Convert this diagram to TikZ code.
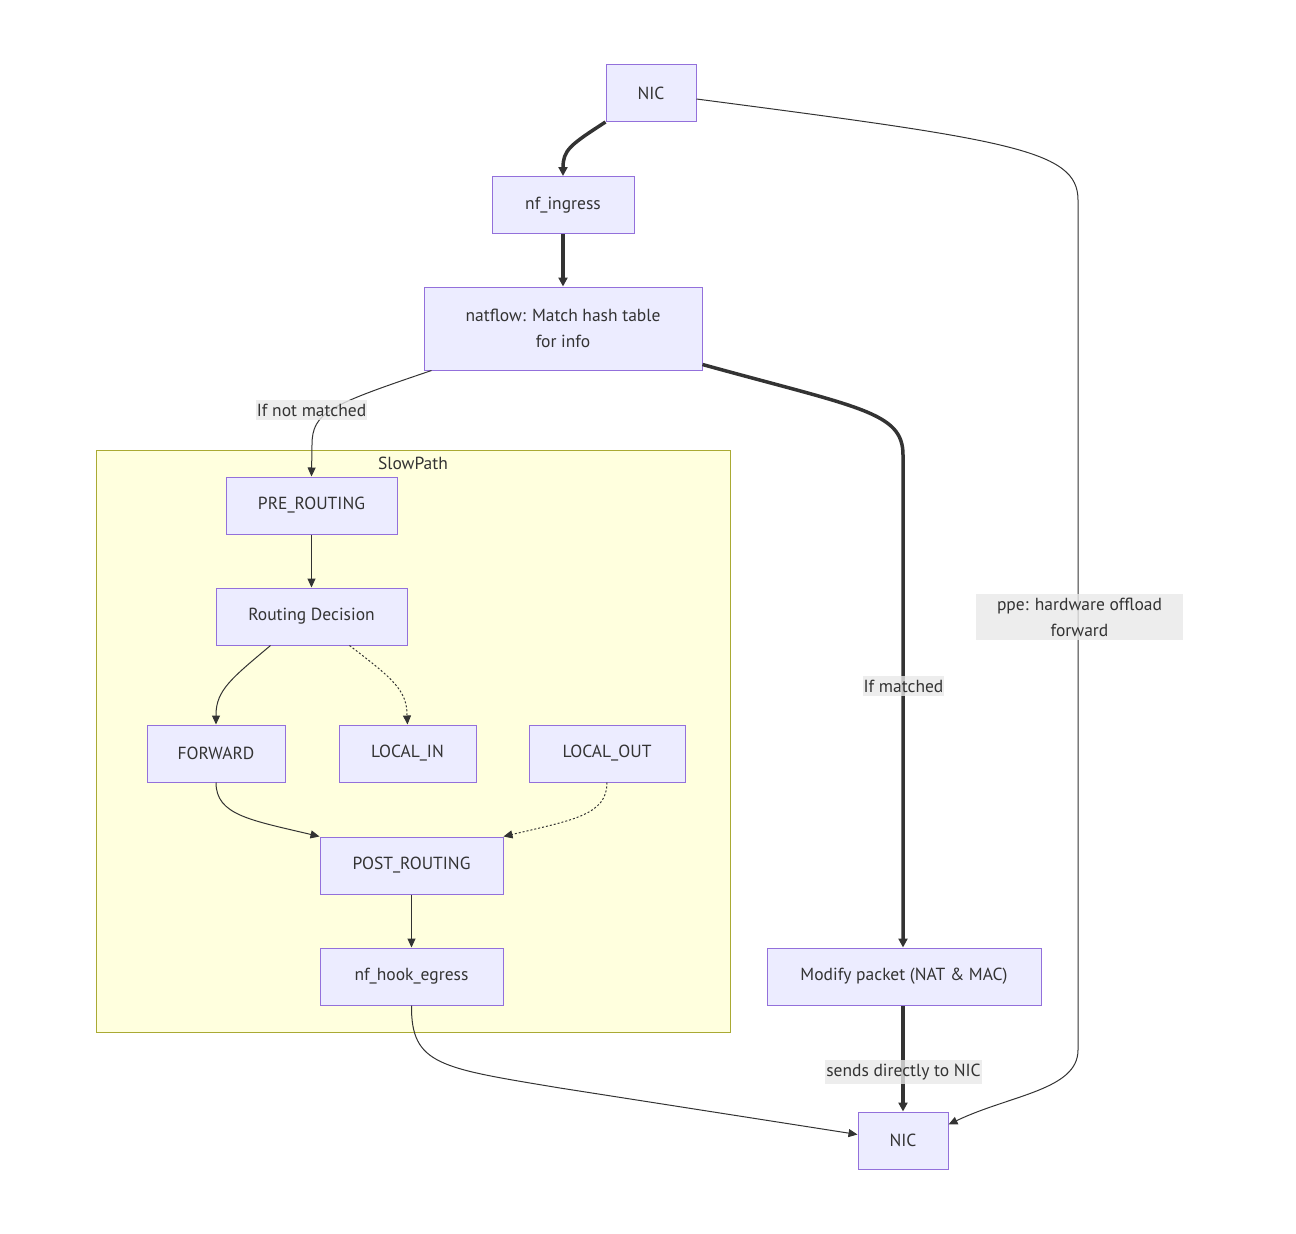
\documentclass[tikz,border=0pt]{standalone}
\usepackage{fontspec}
\setmainfont{PT Sans}
\usepackage{tikz}
\usetikzlibrary{positioning, arrows.meta}

\definecolor{nodefill}{HTML}{ECECFF}
\definecolor{nodeline}{HTML}{9370DB}
\definecolor{clusterfill}{HTML}{FFFFDE}
\definecolor{clusterline}{HTML}{AAAA33}
\definecolor{ink}{HTML}{333333}
\definecolor{lblfill}{HTML}{E8E8E8}

\begin{document}
\begin{tikzpicture}[
    x=1pt, y=-1pt, % pixel-like coordinates, y grows downwards
    every node/.style={font=\fontsize{17.5}{26}\selectfont, text=ink},
    box/.style={draw=nodeline, fill=nodefill, line width=1pt, minimum height=57pt, inner sep=0pt},
    lbl/.style={fill=lblfill, fill opacity=0.8, text opacity=1, inner xsep=1pt, inner ysep=4pt, align=center},
    edge/.style={draw=ink, line width=1pt, -{Triangle[length=9pt, width=8pt]}},
    thickedge/.style={draw=ink, line width=3.5pt, -{Triangle[length=9pt, width=9pt]}},
    dotedge/.style={edge, dash pattern=on 2pt off 2pt}
]
    \useasboundingbox (0, 0) rectangle (1296, 1234);

    % SlowPath cluster (drawn first so it stays behind)
    \draw[draw=clusterline, fill=clusterfill, line width=1pt] (96, 450) rectangle (730, 1032);
    \node (SlowPath) at (413, 463) {SlowPath};

    % Main path nodes
    \node[box, minimum width=90pt] (NicIn) at (651, 93) {NIC};
    \node[box, minimum width=142pt] (Ingress) at (563, 205) {nf\_ingress};
    \node[box, minimum width=278pt, minimum height=83pt, align=center] (Natflow) at (563, 328.5)
        {natflow: Match hash table\\for info};

    % Slow path nodes
    \node[box, minimum width=171pt] (PreRouting) at (311.5, 505.5) {PRE\_ROUTING};
    \node[box, minimum width=191pt] (Routing) at (311.5, 616.5) {Routing Decision};
    \node[box, minimum width=138pt] (Forward) at (216, 753.5) {FORWARD};
    \node[box, minimum width=137pt] (LocalIn) at (407.5, 753.5) {LOCAL\_IN};
    \node[box, minimum width=156pt] (LocalOut) at (607, 753.5) {LOCAL\_OUT};
    \node[box, minimum width=183pt] (PostRouting) at (411.5, 865.5) {POST\_ROUTING};
    \node[box, minimum width=183pt] (Egress) at (411.5, 976.5) {nf\_hook\_egress};

    % Fast path and output
    \node[box, minimum width=274pt] (Modify) at (904, 976.5) {Modify packet (NAT \& MAC)};
    \node[box, minimum width=90pt] (NicOut) at (903, 1140.5) {NIC};

    % 1. NIC -> nf_ingress -> natflow (thick)
    \draw[thickedge] (NicIn.south west) .. controls (570, 145) and (563, 150) .. (563, 168) -- (Ingress.north);
    \draw[thickedge] (Ingress.south) -- (Natflow.north);

    % 2. natflow -> PRE_ROUTING (not matched)
    \draw[edge] ([xshift=8pt]Natflow.south west) .. controls (330, 405) and (312, 412) .. (312, 445)
        -- (PreRouting.north);
    \node[lbl] (NotMatched) at (311.5, 410) {If not matched};

    % 3. natflow -> Modify packet (matched, thick)
    \draw[thickedge] ([yshift=6pt]Natflow.south east) .. controls (860, 408) and (903, 412) .. (903, 455)
        -- (Modify.north -| NicOut.north);
    \node[lbl] (Matched) at (903.5, 686) {If matched};

    % 4. NIC -> NIC (hardware offload)
    \draw[edge] ([yshift=-6pt]NicIn.east) .. controls (1010, 140) and (1078, 150) .. (1078, 200)
        -- (1078, 1050) .. controls (1078, 1090) and (1010, 1095) .. ([yshift=16pt]NicOut.east);
    \node[lbl, inner xsep=21pt] (Offload) at (1079.5, 617) {ppe: hardware offload\\forward};

    % 5. inside the slow path
    \draw[edge] (PreRouting.south) -- (Routing.north);
    \draw[edge] ([xshift=-41pt]Routing.south) .. controls (232, 678) and (216, 690) .. (216, 715) -- (Forward.north);
    \draw[dotedge] ([xshift=38pt]Routing.south) .. controls (392, 678) and (407, 690) .. (407, 715) -- (LocalIn.north);
    \draw[edge] (Forward.south) .. controls (216, 815) and (250, 820) .. (PostRouting.north west);
    \draw[dotedge] (LocalOut.south) .. controls (607, 815) and (573, 820) .. (PostRouting.north east);
    \draw[edge] (PostRouting.south) -- (Egress.north);

    % 6. egress -> NIC
    \draw[edge] (Egress.south) .. controls (411, 1065) and (440, 1068) .. (560, 1088)
        -- ([yshift=6pt]NicOut.west);

    % 7. Modify packet -> NIC (thick)
    \draw[thickedge] (Modify.south -| NicOut.north) -- (NicOut.north);
    \node[lbl] (SendsNic) at (903.5, 1072) {sends directly to NIC};

\end{tikzpicture}
\end{document}
